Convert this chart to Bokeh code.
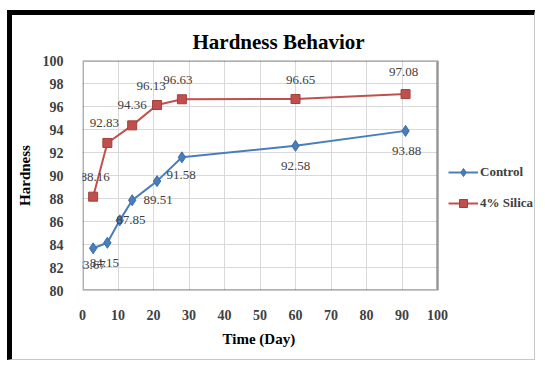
from bokeh.plotting import figure
from bokeh.models import (ColumnDataSource, Legend, LegendItem, FixedTicker, Range1d,
                          Title, BoxAnnotation)
from bokeh.core.properties import value
from bokeh.embed import file_html
from bokeh.resources import INLINE

# ---- data ----
days_control = [3, 7, 10.5, 14, 21, 28, 60, 91]
hardness_control = [83.67, 84.15, 86.1, 87.85, 89.51, 91.58, 92.58, 93.88]
labels_control = ["83.67", "84.15", "87.85", "89.51", "91.58", "", "92.58", "93.88"]

days_silica = [3, 7, 14, 21, 28, 60, 91]
hardness_silica = [88.16, 92.83, 94.36, 96.13, 96.63, 96.65, 97.08]
labels_silica = ["88.16", "92.83", "94.36", "96.13", "96.63", "96.65", "97.08"]

x_ticks = [0, 10, 20, 30, 40, 50, 60, 70, 80, 90, 100]
y_ticks = [80, 82, 84, 86, 88, 90, 92, 94, 96, 98, 100]

title_text = "Hardness Behavior"
x_title = "Time (Day)"
y_title = "Hardness"
series_names = ["Control", "4% Silica"]

# ---- styling / layout ----
SERIF = "Liberation Serif"
BLUE = "#4A7EBB"
RED = "#C0504D"
FIG_W, FIG_H = 528, 350
BORDER_L, BORDER_T, BORDER_B = 70, 45, 75
PLOT_PX = 355          # pixel width of the 0..100 plot area
frame_px = FIG_W - BORDER_L
x_end = x_ticks[-1] * frame_px / PLOT_PX   # extra room on the right for the legend

# label placement (screen px offsets from each point)
ctrl_dx = [-2, -3, 11, 26, 24, 0, 0, 1]
ctrl_dy = [17, 20, 0, 0, -6, 0, 20, 20]
sil_dx = [2, -3, 0, -6, -4, 5, -2]
sil_dy = [-20, -20, -20, -19, -19, -19, -22]

p = figure(width=FIG_W, height=FIG_H, output_backend="svg", toolbar_location=None,
           x_range=Range1d(x_ticks[0], x_end), y_range=Range1d(y_ticks[0], y_ticks[-1]),
           min_border_left=BORDER_L, min_border_right=0, min_border_top=BORDER_T,
           min_border_bottom=BORDER_B,
           styles={"margin-left": "7px", "margin-top": "10px",
                   "border-left": "5px solid black", "border-top": "5px solid black",
                   "border-right": "1px solid #c8c8c8", "border-bottom": "1px solid #c8c8c8"})

p.title.text = title_text
p.title.text_font = SERIF
p.title.text_font_style = "bold"
p.title.text_font_size = "21px"
p.title.text_color = "black"
p.title.align = "left"
p.title.offset = 110
p.title.standoff = 13

p.outline_line_color = None
p.background_fill_color = "white"
p.border_fill_color = "white"

for ax, ticks in ((p.xaxis, x_ticks), (p.yaxis, y_ticks)):
    ax.ticker = FixedTicker(ticks=ticks)
    ax.axis_line_color = None
    ax.major_tick_line_color = None
    ax.minor_tick_line_color = None
    ax.major_label_text_font = SERIF
    ax.major_label_text_font_style = "bold"
    ax.major_label_text_font_size = "14px"
    ax.major_label_text_color = "#404040"
    ax.axis_label_text_font = SERIF
    ax.axis_label_text_font_style = "bold"
    ax.axis_label_text_font_size = "15px"
    ax.axis_label_text_color = "black"

p.yaxis.axis_label = y_title
p.xaxis.major_label_standoff = 13
p.yaxis.major_label_standoff = 13
p.yaxis.axis_label_standoff = 7

xt = Title(text=x_title, align="left", offset=140, standoff=13,
           text_font=SERIF, text_font_style="bold", text_font_size="15px",
           text_color="black")
p.add_layout(xt, "below")

# vertical grid lines (0..100) and horizontal grid lines limited to the plot area
p.xgrid.grid_line_color = "#d9d9d9"
p.xgrid.ticker = FixedTicker(ticks=x_ticks)
p.ygrid.grid_line_color = None
p.segment(x0=[x_ticks[0]] * len(y_ticks), x1=[x_ticks[-1]] * len(y_ticks),
          y0=y_ticks, y1=y_ticks, line_color="#d9d9d9", line_width=1)

# plot-area frame
p.add_layout(BoxAnnotation(left=x_ticks[0], right=x_ticks[-1], bottom=y_ticks[0],
                           top=y_ticks[-1], fill_alpha=0, line_color="black",
                           line_width=3, level="overlay"))

src_c = ColumnDataSource(dict(x=days_control, y=hardness_control, t=labels_control,
                              dx=ctrl_dx, dy=ctrl_dy))
src_s = ColumnDataSource(dict(x=days_silica, y=hardness_silica, t=labels_silica,
                              dx=sil_dx, dy=sil_dy))

lc = p.line("x", "y", source=src_c, line_color=BLUE, line_width=2)
mc = p.scatter("x", "y", source=src_c, marker="diamond", size=11,
               fill_color=BLUE, line_color="#3A6BA5")
ls = p.line("x", "y", source=src_s, line_color=RED, line_width=2)
ms = p.scatter("x", "y", source=src_s, marker="square", size=9,
               fill_color=RED, line_color="#A0403D")

for src in (src_c, src_s):
    p.text("x", "y", text="t", source=src, x_offset="dx", y_offset="dy",
           text_font=value(SERIF), text_font_size="13px", text_color="#404040",
           text_align="center", text_baseline="middle")

legend = Legend(items=[LegendItem(label=series_names[0], renderers=[lc, mc]),
                       LegendItem(label=series_names[1], renderers=[ls, ms])],
                location=(366, 77), orientation="vertical",
                glyph_width=30, glyph_height=20, label_height=20,
                spacing=11, padding=0, margin=0, label_standoff=2,
                border_line_color=None, background_fill_alpha=0,
                label_text_font=SERIF, label_text_font_style="bold",
                label_text_font_size="13px", label_text_color="#404040")
p.add_layout(legend)

open("out.html", "w").write(file_html(p, INLINE))
